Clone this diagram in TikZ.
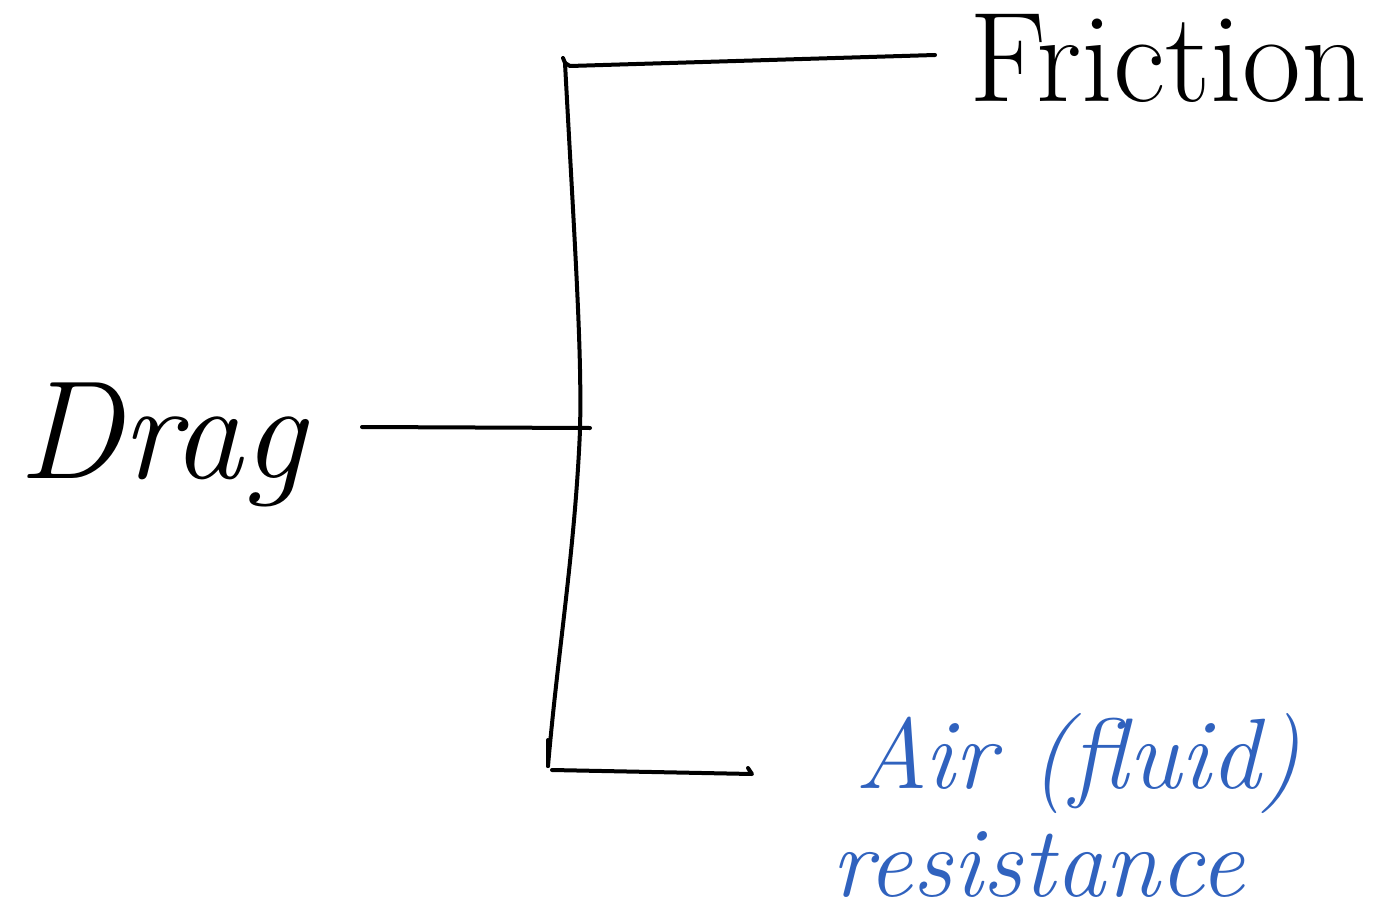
\documentclass[tikz,border=0pt]{standalone}
\definecolor{pen}{RGB}{0,0,0}
\definecolor{bluepen}{RGB}{48,98,190}
\begin{document}
\begin{tikzpicture}[x=1pt,y=-1pt,
  stroke/.style={draw=pen,line width=4pt,line cap=round,line join=round},
  lbl/.style={inner sep=0pt,anchor=center},
  blue/.style={lbl,text=bluepen}]
\useasboundingbox (0,0) rectangle (1386,923);
\node[lbl,font=\fontsize{140}{140}\selectfont\itshape] (drag) at (162,445) {Drag};
\node[lbl,font=\fontsize{128}{128}\selectfont] (friction) at (1168,58) {Friction};
\node[blue,font=\fontsize{100}{100}\selectfont\itshape] (air) at (1078,764) {Air (fluid)};
\node[blue,font=\fontsize{100}{100}\selectfont\itshape] (resist) at (1038,864) {resistance};
\coordinate (dstart) at (362,427);
\coordinate (junc) at (590,428);
\coordinate (top) at (565,63);
\coordinate (topend) at (935,55);
\coordinate (bot) at (548,766);
\coordinate (botend) at (752,774);
\draw[stroke] (dstart) -- (junc);
\draw[stroke] (top) .. controls (575,250) and (582,350) .. (580,430)
  .. controls (575,550) and (558,650) .. (bot);
\draw[stroke] (top) -- (570,66) -- (topend);
\draw[stroke] (563,58) -- (top);
\draw[stroke] (bot) -- (548,740);
\draw[stroke] (552,770) -- (botend) -- (748,768);
\end{tikzpicture}
\end{document}
